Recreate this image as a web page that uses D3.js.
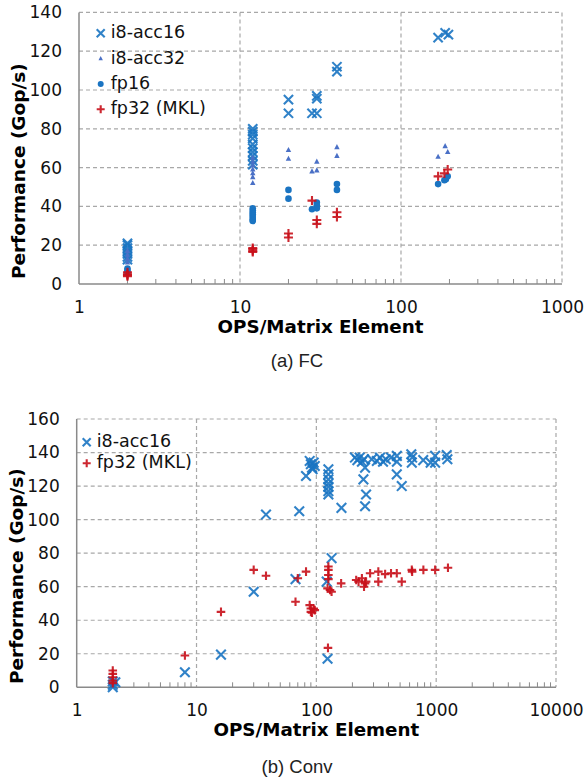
<!DOCTYPE html>
<html>
<head>
<meta charset="utf-8">
<script src="https://cdn.jsdelivr.net/npm/d3@7"></script>
<style>
  body { margin: 0; background: #fff; }
  svg { display: block; }
</style>
</head>
<body>
<div id="chart"></div>
<script>
// ---- data ----
// (a) FC : [ops per matrix element, Gop/s]
const fcAcc16 = [
  [2, 21], [2, 20], [2, 18.5], [2, 17], [2, 15.5], [2, 14], [2, 12.5],
  [12, 80], [12, 78.5], [12, 77], [12, 75], [12, 72], [12, 70], [12, 68], [12, 66], [12, 63.5], [12, 61.5],
  [20, 95], [20, 88], [30, 97], [30, 95.5], [30, 88], [28, 88],
  [40, 112], [40, 109.5], [170, 127], [188, 129.5], [197, 128.5]
];
const fcAcc32 = [
  [2, 17], [2, 15], [2, 13], [2, 11],
  [12, 65], [12, 63], [12, 61], [12, 59], [12, 57], [12, 55], [12, 52],
  [20, 69], [20, 64.5], [30, 63], [30, 58.5], [28, 58],
  [40, 70.5], [40, 66], [170, 65.5], [188, 71], [195, 68]
];
const fcFp16 = [
  [2, 8], [2, 7], [2, 6],
  [12, 39], [12, 38], [12, 37], [12, 36], [12, 35], [12, 34], [12, 33], [12, 32.5],
  [20, 48.5], [20, 44], [30, 42], [30, 40.5], [30, 39], [28, 38.5],
  [40, 51.5], [40, 48.5], [170, 51.5], [186, 53.5], [190, 54], [195, 55.5]
];
const fcFp32 = [
  [2, 6], [2, 5], [2, 4.5], [2, 4],
  [12, 18.5], [12, 18], [12, 17], [12, 16.5],
  [20, 26], [20, 24], [28, 43], [30, 33], [30, 31],
  [40, 37], [40, 34.5], [170, 55.5], [186, 57], [195, 59]
];

// (b) Conv
const convAcc16 = [
  [2, 0], [2, 1.5], [2.1, 3], [2, 3.5], [8, 9], [16, 19.5], [30, 57], [38, 103],
  [67, 64.5], [72, 105], [82, 126], [88, 135], [90, 133], [92, 131], [95, 134], [97, 132], [93, 130],
  [126, 130], [126, 127], [126, 124], [126, 121.5], [126, 119.5], [126, 117], [126, 115],
  [134, 77], [122, 63], [124, 17], [162, 107],
  [210, 137], [220, 135.5], [230, 137], [240, 134.5], [250, 136], [255, 131], [247, 124], [260, 115], [255, 108],
  [290, 136], [320, 135], [340, 137], [360, 134.5], [380, 136], [420, 137], [470, 138], [470, 134.5],
  [469, 127], [516, 120], [620, 139], [630, 137], [626, 134], [780, 135.5], [900, 134],
  [980, 138], [980, 134], [1225, 138.5], [1240, 136]
];
const convFp32 = [
  [2, 10], [2, 8], [2, 6], [2, 4], [2, 2.5], [8, 19], [16, 45], [30, 70], [38, 66.5],
  [67, 51], [70, 65], [82, 69], [88, 49], [90, 47], [92, 44.5], [95, 47], [97, 46], [90, 45],
  [126, 72], [126, 70], [126, 67], [126, 64.5], [124, 59], [130, 58], [134, 57], [125, 23.5],
  [161, 62], [215, 64], [225, 63], [240, 65], [250, 60], [255, 62], [260, 63], [281, 68],
  [329, 69], [329, 63], [375, 67.5], [420, 68], [469, 68], [516, 63], [626, 70], [630, 69],
  [782, 70], [980, 70], [1254, 71.3]
];

const fcXTicks = [1, 10, 100, 1000];
const fcYTicks = [0, 20, 40, 60, 80, 100, 120, 140];
const convXTicks = [1, 10, 100, 1000, 10000];
const convYTicks = [0, 20, 40, 60, 80, 100, 120, 140, 160];

const xTitle = "OPS/Matrix Element";
const yTitle = "Performance (Gop/s)";

// ---- styles ----
const blue = "#1a74c2";
const triBlue = "#4a70c6";
const red = "#c8101a";
const gridColor = "#a8a8a8";
const axisColor = "#8a8a8a";

const width = 585, height = 777;

const svg = d3.select("#chart")
  .append("svg")
  .attr("width", width)
  .attr("height", height);

svg.append("rect").attr("width", width).attr("height", height).attr("fill", "#fff");

function drawMarker(g, type, x, y, s) {
  if (type === "x") {
    g.append("path")
      .attr("d", `M${x - s},${y - s}L${x + s},${y + s}M${x - s},${y + s}L${x + s},${y - s}`)
      .attr("stroke", blue).attr("stroke-width", 2.1).attr("fill", "none").attr("opacity", 0.9);
  } else if (type === "plus") {
    g.append("path")
      .attr("d", `M${x - s},${y}L${x + s},${y}M${x},${y - s}L${x},${y + s}`)
      .attr("stroke", red).attr("stroke-width", 2.1).attr("fill", "none").attr("opacity", 0.9);
  } else if (type === "tri") {
    g.append("path")
      .attr("d", `M${x},${y - s}L${x + s * 0.85},${y + s * 0.6}L${x - s * 0.85},${y + s * 0.6}Z`)
      .attr("fill", triBlue);
  } else if (type === "dot") {
    g.append("circle").attr("cx", x).attr("cy", y).attr("r", s).attr("fill", blue);
  }
}

function drawPanel(cfg) {
  const x = d3.scaleLog().domain(cfg.xDomain).range([cfg.left, cfg.right]);
  const y = d3.scaleLinear().domain(cfg.yDomain).range([cfg.bottom, cfg.top]);
  const g = svg.append("g");

  // horizontal grid
  g.selectAll(".hgrid")
    .data(cfg.yTicks.filter(d => d > 0))
    .enter().append("line")
    .attr("x1", cfg.left).attr("x2", cfg.right)
    .attr("y1", d => y(d)).attr("y2", d => y(d))
    .attr("stroke", gridColor).attr("stroke-width", 1.2).attr("stroke-dasharray", "4,3");

  // vertical grid
  g.selectAll(".vgrid")
    .data(cfg.xTicks.slice(1))
    .enter().append("line")
    .attr("x1", d => x(d)).attr("x2", d => x(d))
    .attr("y1", cfg.top).attr("y2", cfg.bottom)
    .attr("stroke", gridColor).attr("stroke-width", 1.2).attr("stroke-dasharray", "4,3");

  // minor ticks along bottom
  const minors = [];
  cfg.xTicks.slice(0, -1).forEach(t => {
    for (let k = 2; k <= 9; k++) minors.push(t * k);
  });
  g.selectAll(".minor")
    .data(minors)
    .enter().append("line")
    .attr("x1", d => x(d)).attr("x2", d => x(d))
    .attr("y1", cfg.bottom).attr("y2", cfg.bottom - 5)
    .attr("stroke", axisColor).attr("stroke-width", 1);

  // axis lines
  g.append("line")
    .attr("x1", cfg.left).attr("x2", cfg.left).attr("y1", cfg.top).attr("y2", cfg.bottom)
    .attr("stroke", axisColor).attr("stroke-width", 1.5);
  g.append("line")
    .attr("x1", cfg.left).attr("x2", cfg.right).attr("y1", cfg.bottom).attr("y2", cfg.bottom)
    .attr("stroke", axisColor).attr("stroke-width", 1.5);

  // tick labels through d3 axes
  const xAxis = g.append("g")
    .attr("transform", `translate(0,${cfg.bottom})`)
    .call(d3.axisBottom(x).tickValues(cfg.xTicks).tickFormat(d3.format("d")).tickSize(0).tickPadding(17));
  const yAxis = g.append("g")
    .attr("transform", `translate(${cfg.left},0)`)
    .call(d3.axisLeft(y).tickValues(cfg.yTicks).tickSize(0).tickPadding(cfg.yPad));
  [xAxis, yAxis].forEach(a => {
    a.select(".domain").remove();
    a.selectAll("text")
      .attr("font-family", "DejaVu Sans, Verdana, sans-serif")
      .attr("font-size", 17)
      .attr("fill", "#111");
  });

  // titles
  g.append("text")
    .attr("x", (cfg.left + cfg.right) / 2)
    .attr("y", cfg.bottom + 44)
    .attr("text-anchor", "middle").attr("dominant-baseline", "middle")
    .attr("font-family", "DejaVu Sans, Verdana, sans-serif")
    .attr("font-weight", "bold").attr("font-size", 18.3).attr("fill", "#000")
    .text(xTitle);
  const ym = (cfg.top + cfg.bottom) / 2 + 23;
  g.append("text")
    .attr("transform", `translate(${cfg.left - 59},${ym}) rotate(-90)`)
    .attr("text-anchor", "middle").attr("dominant-baseline", "middle")
    .attr("font-family", "DejaVu Sans, Verdana, sans-serif")
    .attr("font-weight", "bold").attr("font-size", 18.5).attr("fill", "#000")
    .text(yTitle);

  // caption
  g.append("text")
    .attr("x", 297).attr("y", cfg.captionY)
    .attr("text-anchor", "middle").attr("dominant-baseline", "middle")
    .attr("font-family", "Liberation Sans, Arial, sans-serif")
    .attr("font-size", 18.5).attr("fill", "#222")
    .text(cfg.caption);

  // points
  const pg = g.append("g");
  cfg.series.forEach(s => {
    s.data.forEach(d => drawMarker(pg, s.type, x(d[0]), y(d[1]), s.size));
  });

  // legend
  const lg = g.append("g");
  cfg.series.forEach((s, i) => {
    const ly = cfg.legendY + i * cfg.legendStep;
    drawMarker(lg, s.type, cfg.legendX, ly, s.legendSize);
    lg.append("text")
      .attr("x", cfg.legendX + 10).attr("y", ly)
      .attr("dominant-baseline", "middle")
      .attr("font-family", "DejaVu Sans, Verdana, sans-serif")
      .attr("font-size", 17.5).attr("fill", "#111")
      .text(s.name);
  });
}

drawPanel({
  left: 79, right: 562, top: 12.4, bottom: 284,
  xDomain: [1, 1000], yDomain: [0, 140],
  xTicks: fcXTicks, yTicks: fcYTicks, yPad: 17,
  caption: "(a) FC", captionY: 362,
  legendX: 100.7, legendY: 33.3, legendStep: 25.3,
  series: [
    { name: "i8-acc16", type: "x", data: fcAcc16, size: 4.6, legendSize: 4 },
    { name: "i8-acc32", type: "tri", data: fcAcc32, size: 3.2, legendSize: 2.6 },
    { name: "fp16", type: "dot", data: fcFp16, size: 3.3, legendSize: 3 },
    { name: "fp32 (MKL)", type: "plus", data: fcFp32, size: 4.5, legendSize: 4 }
  ]
});

drawPanel({
  left: 76.7, right: 556, top: 419, bottom: 687.3,
  xDomain: [1, 10000], yDomain: [0, 160],
  xTicks: convXTicks, yTicks: convYTicks, yPad: 17,
  caption: "(b) Conv", captionY: 768,
  legendX: 86.7, legendY: 442.3, legendStep: 21,
  series: [
    { name: "i8-acc16", type: "x", data: convAcc16, size: 4.8, legendSize: 4 },
    { name: "fp32 (MKL)", type: "plus", data: convFp32, size: 4.3, legendSize: 4 }
  ]
});
</script>
</body>
</html>
